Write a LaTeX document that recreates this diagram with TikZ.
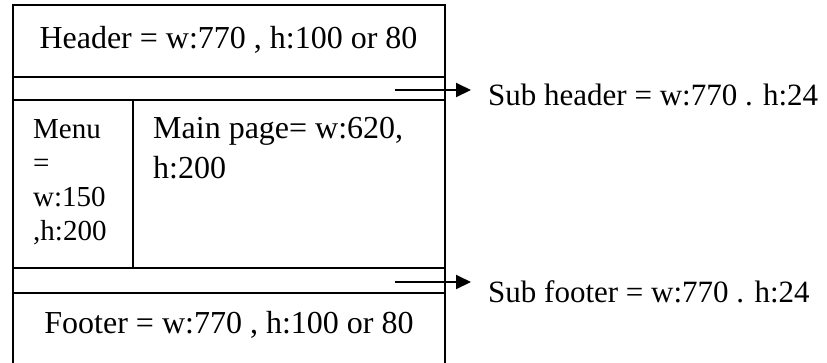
\documentclass[tikz,border=0pt]{standalone}
\usepackage{fontspec}
\setmainfont{Liberation Serif}
\usetikzlibrary{arrows.meta}
\tikzset{
  frame/.style={line width=2pt, line cap=rect},
  bigtxt/.style={inner sep=0pt, font=\fontsize{32}{40}\selectfont},
  sidetxt/.style={inner sep=0pt, anchor=base west, font=\fontsize{31}{38}\selectfont},
  menutxt/.style={inner sep=0pt, anchor=base west, font=\fontsize{29}{34}\selectfont},
  pointer/.style={line width=2pt, -{Triangle[length=15pt,width=14pt]}}
}
\begin{document}
\begin{tikzpicture}[x=1pt,y=-1pt]
\useasboundingbox (0,0) rectangle (827,362);
% frame
\coordinate (tl) at (12.5,5);
\coordinate (tr) at (444.5,5);
\draw[frame] (12.5,370) -- (tl) -- (tr) -- (444.5,370);
\draw[frame] (12.5,77) -- (444.5,77);
\draw[frame] (12.5,100) -- (444.5,100);
\draw[frame] (12.5,268) -- (444.5,268);
\draw[frame] (12.5,293) -- (444.5,293);
\draw[frame] (133,100) -- (133,268);
% texts
\node[bigtxt, anchor=base] (header) at (228.5,48) {Header = w:770 , h:100 or 80};
\node[bigtxt, anchor=base] (footer) at (229,333) {Footer = w:770 , h:100 or 80};
\node[bigtxt, anchor=base west] (main1) at (153,138) {Main page= w:620,};
\node[bigtxt, anchor=base west] (main2) at (153,178) {h:200};
\node[menutxt] (menu1) at (33,138) {Menu};
\node[menutxt] (menu2) at (33,172) {=};
\node[menutxt] (menu3) at (33,206) {w:150};
\node[menutxt] (menu4) at (33,240) {,h:200};
\node[sidetxt] (subh) at (488,105) {Sub header = w:770 . h:24};
\node[sidetxt] (subf) at (488,302) {Sub footer = w:770 . h:24};
% arrows
\coordinate (sh0) at (395,90);
\coordinate (sh1) at (471,90);
\coordinate (sf0) at (395,282);
\coordinate (sf1) at (471,282);
\draw[pointer] (sh0) -- (sh1);
\draw[pointer] (sf0) -- (sf1);
\end{tikzpicture}
\end{document}
